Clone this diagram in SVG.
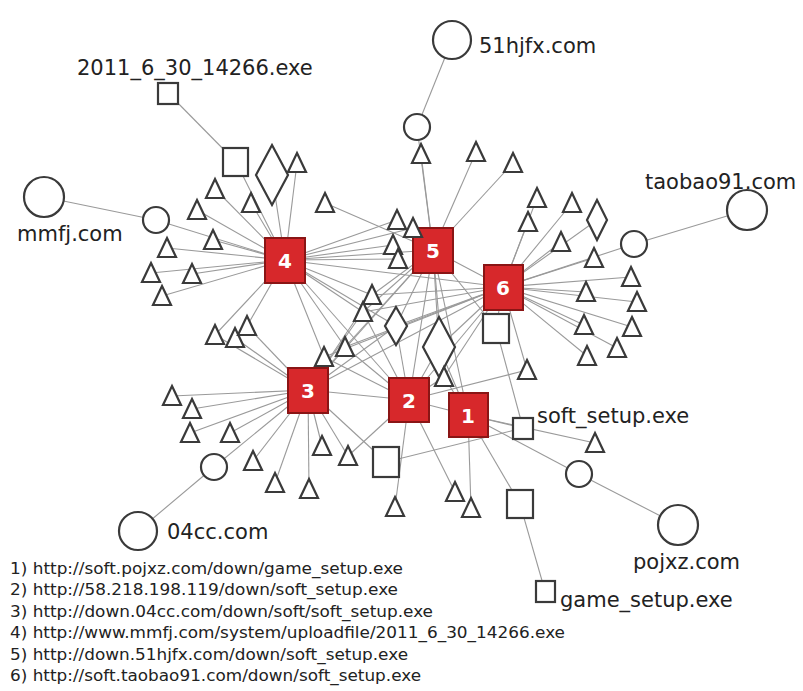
<svg xmlns="http://www.w3.org/2000/svg" xmlns:xlink="http://www.w3.org/1999/xlink" width="803" height="691" viewBox="0 0 803 691">
<style>
.e{stroke:#9a9a9a;stroke-width:1.1;fill:none}
.n{fill:#fff;stroke:#3a3a3a;stroke-width:2.2}
.h{fill:#d7282b;stroke:#8a1515;stroke-width:2}
.hl{fill:#fff;font-family:"DejaVu Sans",sans-serif;font-weight:bold;font-size:20px;text-anchor:middle}
.lb{fill:#222;font-family:"DejaVu Sans",sans-serif;font-size:21px}
.lg{fill:#222;font-family:"DejaVu Sans",sans-serif;font-size:15.5px}
</style>
<defs>
<path id="tri" d="M0,-10 L9,9 L-9,9 Z"/>
</defs>
<rect width="803" height="691" fill="#fff"/>
<g id="connectors">
<line class="e" x1="452" y1="40" x2="417" y2="127"/>
<line class="e" x1="417" y1="127" x2="433" y2="250"/>
<line class="e" x1="44" y1="197" x2="156" y2="220"/>
<line class="e" x1="156" y1="220" x2="285" y2="260"/>
<line class="e" x1="747" y1="210" x2="634" y2="244"/>
<line class="e" x1="634" y1="244" x2="503" y2="287"/>
<line class="e" x1="138" y1="531" x2="214" y2="467"/>
<line class="e" x1="214" y1="467" x2="308" y2="390"/>
<line class="e" x1="678" y1="525" x2="579" y2="474"/>
<line class="e" x1="579" y1="474" x2="468" y2="415"/>
<line class="e" x1="168" y1="93" x2="236" y2="162"/>
<line class="e" x1="236" y1="162" x2="285" y2="260"/>
<line class="e" x1="523" y1="428" x2="496" y2="328"/>
<line class="e" x1="523" y1="428" x2="386" y2="462"/>
<line class="e" x1="496" y1="328" x2="503" y2="287"/>
<line class="e" x1="545" y1="591" x2="520" y2="504"/>
<line class="e" x1="520" y1="504" x2="468" y2="415"/>
<line class="e" x1="386" y1="462" x2="308" y2="390"/>
<line class="e" x1="285" y1="260" x2="272" y2="175"/>
<line class="e" x1="285" y1="260" x2="297" y2="163"/>
<line class="e" x1="285" y1="260" x2="215" y2="189"/>
<line class="e" x1="285" y1="260" x2="197" y2="210"/>
<line class="e" x1="285" y1="260" x2="251" y2="203"/>
<line class="e" x1="285" y1="260" x2="213" y2="240"/>
<line class="e" x1="285" y1="260" x2="167" y2="248"/>
<line class="e" x1="285" y1="260" x2="151" y2="273"/>
<line class="e" x1="285" y1="260" x2="192" y2="274"/>
<line class="e" x1="285" y1="260" x2="162" y2="296"/>
<line class="e" x1="285" y1="260" x2="215" y2="335"/>
<line class="e" x1="285" y1="260" x2="247" y2="326"/>
<line class="e" x1="285" y1="260" x2="324" y2="357"/>
<line class="e" x1="285" y1="260" x2="397" y2="220"/>
<line class="e" x1="285" y1="260" x2="413" y2="228"/>
<line class="e" x1="285" y1="260" x2="393" y2="245"/>
<line class="e" x1="285" y1="260" x2="398" y2="259"/>
<line class="e" x1="285" y1="260" x2="372" y2="295"/>
<line class="e" x1="285" y1="260" x2="363" y2="312"/>
<line class="e" x1="285" y1="260" x2="345" y2="347"/>
<line class="e" x1="285" y1="260" x2="503" y2="287"/>
<line class="e" x1="285" y1="260" x2="409" y2="400"/>
<line class="e" x1="285" y1="260" x2="396" y2="326"/>
<line class="e" x1="285" y1="260" x2="433" y2="250"/>
<line class="e" x1="433" y1="250" x2="421" y2="154"/>
<line class="e" x1="433" y1="250" x2="476" y2="152"/>
<line class="e" x1="433" y1="250" x2="513" y2="163"/>
<line class="e" x1="433" y1="250" x2="325" y2="203"/>
<line class="e" x1="433" y1="250" x2="372" y2="295"/>
<line class="e" x1="433" y1="250" x2="363" y2="312"/>
<line class="e" x1="433" y1="250" x2="396" y2="326"/>
<line class="e" x1="433" y1="250" x2="439" y2="347"/>
<line class="e" x1="433" y1="250" x2="444" y2="377"/>
<line class="e" x1="433" y1="250" x2="503" y2="287"/>
<line class="e" x1="433" y1="250" x2="308" y2="390"/>
<line class="e" x1="433" y1="250" x2="345" y2="347"/>
<line class="e" x1="433" y1="250" x2="409" y2="400"/>
<line class="e" x1="433" y1="250" x2="496" y2="328"/>
<line class="e" x1="503" y1="287" x2="537" y2="198"/>
<line class="e" x1="503" y1="287" x2="528" y2="222"/>
<line class="e" x1="503" y1="287" x2="572" y2="203"/>
<line class="e" x1="503" y1="287" x2="561" y2="242"/>
<line class="e" x1="503" y1="287" x2="594" y2="258"/>
<line class="e" x1="503" y1="287" x2="597" y2="220"/>
<line class="e" x1="503" y1="287" x2="631" y2="277"/>
<line class="e" x1="503" y1="287" x2="586" y2="292"/>
<line class="e" x1="503" y1="287" x2="637" y2="302"/>
<line class="e" x1="503" y1="287" x2="584" y2="325"/>
<line class="e" x1="503" y1="287" x2="632" y2="327"/>
<line class="e" x1="503" y1="287" x2="617" y2="348"/>
<line class="e" x1="503" y1="287" x2="587" y2="356"/>
<line class="e" x1="503" y1="287" x2="527" y2="370"/>
<line class="e" x1="503" y1="287" x2="372" y2="295"/>
<line class="e" x1="503" y1="287" x2="363" y2="312"/>
<line class="e" x1="503" y1="287" x2="345" y2="347"/>
<line class="e" x1="503" y1="287" x2="324" y2="357"/>
<line class="e" x1="503" y1="287" x2="396" y2="326"/>
<line class="e" x1="503" y1="287" x2="439" y2="347"/>
<line class="e" x1="503" y1="287" x2="444" y2="377"/>
<line class="e" x1="503" y1="287" x2="409" y2="400"/>
<line class="e" x1="503" y1="287" x2="308" y2="390"/>
<line class="e" x1="308" y1="390" x2="215" y2="335"/>
<line class="e" x1="308" y1="390" x2="235" y2="338"/>
<line class="e" x1="308" y1="390" x2="247" y2="326"/>
<line class="e" x1="308" y1="390" x2="172" y2="396"/>
<line class="e" x1="308" y1="390" x2="192" y2="409"/>
<line class="e" x1="308" y1="390" x2="190" y2="433"/>
<line class="e" x1="308" y1="390" x2="230" y2="433"/>
<line class="e" x1="308" y1="390" x2="253" y2="461"/>
<line class="e" x1="308" y1="390" x2="275" y2="483"/>
<line class="e" x1="308" y1="390" x2="309" y2="489"/>
<line class="e" x1="308" y1="390" x2="322" y2="446"/>
<line class="e" x1="308" y1="390" x2="348" y2="456"/>
<line class="e" x1="308" y1="390" x2="345" y2="347"/>
<line class="e" x1="308" y1="390" x2="324" y2="357"/>
<line class="e" x1="308" y1="390" x2="363" y2="312"/>
<line class="e" x1="308" y1="390" x2="372" y2="295"/>
<line class="e" x1="308" y1="390" x2="396" y2="326"/>
<line class="e" x1="308" y1="390" x2="409" y2="400"/>
<line class="e" x1="409" y1="400" x2="396" y2="326"/>
<line class="e" x1="409" y1="400" x2="439" y2="347"/>
<line class="e" x1="409" y1="400" x2="444" y2="377"/>
<line class="e" x1="409" y1="400" x2="395" y2="507"/>
<line class="e" x1="409" y1="400" x2="455" y2="492"/>
<line class="e" x1="409" y1="400" x2="527" y2="370"/>
<line class="e" x1="409" y1="400" x2="348" y2="456"/>
<line class="e" x1="409" y1="400" x2="345" y2="347"/>
<line class="e" x1="409" y1="400" x2="363" y2="312"/>
<line class="e" x1="409" y1="400" x2="468" y2="415"/>
<line class="e" x1="409" y1="400" x2="324" y2="357"/>
<line class="e" x1="468" y1="415" x2="444" y2="377"/>
<line class="e" x1="468" y1="415" x2="523" y2="428"/>
<line class="e" x1="468" y1="415" x2="595" y2="443"/>
<line class="e" x1="468" y1="415" x2="471" y2="508"/>
<line class="e" x1="468" y1="415" x2="439" y2="347"/>
<line class="e" x1="468" y1="415" x2="433" y2="250"/>
</g>
<g id="n-51hjfx"><circle class="n" cx="452" cy="40" r="19"/><text class="lb" x="479" y="53">51hjfx.com</text></g>
<g id="n-51hjfx-s"><circle class="n" cx="417" cy="127" r="13"/></g>
<g id="n-mmfj"><circle class="n" cx="44" cy="197" r="20"/><text class="lb" x="17" y="241">mmfj.com</text></g>
<g id="n-mmfj-s"><circle class="n" cx="156" cy="220" r="13"/></g>
<g id="n-taobao91"><circle class="n" cx="747" cy="210" r="20"/><text class="lb" x="645" y="189">taobao91.com</text></g>
<g id="n-taobao91-s"><circle class="n" cx="634" cy="244" r="13"/></g>
<g id="n-04cc"><circle class="n" cx="138" cy="531" r="19"/><text class="lb" x="167" y="539">04cc.com</text></g>
<g id="n-04cc-s"><circle class="n" cx="214" cy="467" r="13"/></g>
<g id="n-pojxz"><circle class="n" cx="678" cy="525" r="20"/><text class="lb" x="633" y="569">pojxz.com</text></g>
<g id="n-pojxz-s"><circle class="n" cx="579" cy="474" r="13"/></g>
<g id="n-2011"><rect class="n" x="158" y="83" width="20" height="21"/><text class="lb" x="77" y="75">2011_6_30_14266.exe</text></g>
<g id="n-sqa"><rect class="n" x="223" y="148" width="25" height="28"/></g>
<g id="n-soft"><rect class="n" x="513" y="418" width="20" height="21"/><text class="lb" x="537" y="423">soft_setup.exe</text></g>
<g id="n-sqb"><rect class="n" x="483" y="314" width="26" height="29"/></g>
<g id="n-sqc"><rect class="n" x="373" y="447" width="26" height="30"/></g>
<g id="n-sqd"><rect class="n" x="507" y="490" width="26" height="28"/></g>
<g id="n-game"><rect class="n" x="536" y="581" width="19" height="21"/><text class="lb" x="560" y="607">game_setup.exe</text></g>
<g id="n-d1"><path class="n" d="M272,145 L288,175 L272,205 L256,175 Z"/></g>
<g id="n-d2"><path class="n" d="M597,200 L607,220 L597,240 L587,220 Z"/></g>
<g id="n-d3"><path class="n" d="M396,307 L407,326 L396,345 L385,326 Z"/></g>
<g id="n-d4"><path class="n" d="M439,317 L455,347 L439,377 L423,347 Z"/></g>
<g id="triangles">
<use id="t1" class="n" href="#tri" x="421" y="154"/>
<use id="t2" class="n" href="#tri" x="476" y="152"/>
<use id="t3" class="n" href="#tri" x="513" y="163"/>
<use id="t4" class="n" href="#tri" x="325" y="203"/>
<use id="t5" class="n" href="#tri" x="297" y="163"/>
<use id="t6" class="n" href="#tri" x="215" y="189"/>
<use id="t7" class="n" href="#tri" x="197" y="210"/>
<use id="t8" class="n" href="#tri" x="251" y="203"/>
<use id="t9" class="n" href="#tri" x="213" y="240"/>
<use id="t10" class="n" href="#tri" x="167" y="248"/>
<use id="t11" class="n" href="#tri" x="151" y="273"/>
<use id="t12" class="n" href="#tri" x="192" y="274"/>
<use id="t13" class="n" href="#tri" x="162" y="296"/>
<use id="t14" class="n" href="#tri" x="215" y="335"/>
<use id="t15" class="n" href="#tri" x="235" y="338"/>
<use id="t16" class="n" href="#tri" x="247" y="326"/>
<use id="t17" class="n" href="#tri" x="372" y="295"/>
<use id="t18" class="n" href="#tri" x="363" y="312"/>
<use id="t19" class="n" href="#tri" x="345" y="347"/>
<use id="t20" class="n" href="#tri" x="324" y="357"/>
<use id="t21" class="n" href="#tri" x="172" y="396"/>
<use id="t22" class="n" href="#tri" x="192" y="409"/>
<use id="t23" class="n" href="#tri" x="190" y="433"/>
<use id="t24" class="n" href="#tri" x="230" y="433"/>
<use id="t25" class="n" href="#tri" x="253" y="461"/>
<use id="t26" class="n" href="#tri" x="275" y="483"/>
<use id="t27" class="n" href="#tri" x="309" y="489"/>
<use id="t28" class="n" href="#tri" x="322" y="446"/>
<use id="t29" class="n" href="#tri" x="348" y="456"/>
<use id="t30" class="n" href="#tri" x="397" y="220"/>
<use id="t32" class="n" href="#tri" x="393" y="245"/>
<use id="t33" class="n" href="#tri" x="398" y="259"/>
<use id="t34" class="n" href="#tri" x="444" y="377"/>
<use id="t35" class="n" href="#tri" x="527" y="370"/>
<use id="t36" class="n" href="#tri" x="595" y="443"/>
<use id="t37" class="n" href="#tri" x="395" y="507"/>
<use id="t38" class="n" href="#tri" x="455" y="492"/>
<use id="t39" class="n" href="#tri" x="471" y="508"/>
<use id="t40" class="n" href="#tri" x="537" y="198"/>
<use id="t41" class="n" href="#tri" x="528" y="222"/>
<use id="t42" class="n" href="#tri" x="572" y="203"/>
<use id="t43" class="n" href="#tri" x="561" y="242"/>
<use id="t44" class="n" href="#tri" x="594" y="258"/>
<use id="t45" class="n" href="#tri" x="631" y="277"/>
<use id="t46" class="n" href="#tri" x="586" y="292"/>
<use id="t47" class="n" href="#tri" x="637" y="302"/>
<use id="t48" class="n" href="#tri" x="584" y="325"/>
<use id="t49" class="n" href="#tri" x="632" y="327"/>
<use id="t50" class="n" href="#tri" x="617" y="348"/>
<use id="t51" class="n" href="#tri" x="587" y="356"/>
</g>
<g id="hub4"><rect class="h" x="265" y="238" width="40" height="45"/><text class="hl" x="285" y="268">4</text></g>
<g id="hub5"><rect class="h" x="413" y="228" width="40" height="45"/><text class="hl" x="433" y="258">5</text></g>
<g id="hub6"><rect class="h" x="484" y="265" width="39" height="45"/><text class="hl" x="503" y="295">6</text></g>
<g id="hub3"><rect class="h" x="288" y="368" width="40" height="45"/><text class="hl" x="308" y="398">3</text></g>
<g id="hub2"><rect class="h" x="389" y="378" width="40" height="44"/><text class="hl" x="409" y="408">2</text></g>
<g id="hub1"><rect class="h" x="449" y="393" width="39" height="44"/><text class="hl" x="468" y="423">1</text></g>
<use id="t31" class="n" href="#tri" x="413" y="228"/>
<g id="legend">
<text class="lg" x="10" y="574" textLength="393" lengthAdjust="spacingAndGlyphs">1) http://soft.pojxz.com/down/game_setup.exe</text>
<text class="lg" x="10" y="595" textLength="388" lengthAdjust="spacingAndGlyphs">2) http://58.218.198.119/down/soft_setup.exe</text>
<text class="lg" x="10" y="617" textLength="423" lengthAdjust="spacingAndGlyphs">3) http://down.04cc.com/down/soft/soft_setup.exe</text>
<text class="lg" x="10" y="638" textLength="555" lengthAdjust="spacingAndGlyphs">4) http://www.mmfj.com/system/uploadfile/2011_6_30_14266.exe</text>
<text class="lg" x="10" y="660" textLength="398" lengthAdjust="spacingAndGlyphs">5) http://down.51hjfx.com/down/soft_setup.exe</text>
<text class="lg" x="10" y="681" textLength="411" lengthAdjust="spacingAndGlyphs">6) http://soft.taobao91.com/down/soft_setup.exe</text>
</g>
</svg>
